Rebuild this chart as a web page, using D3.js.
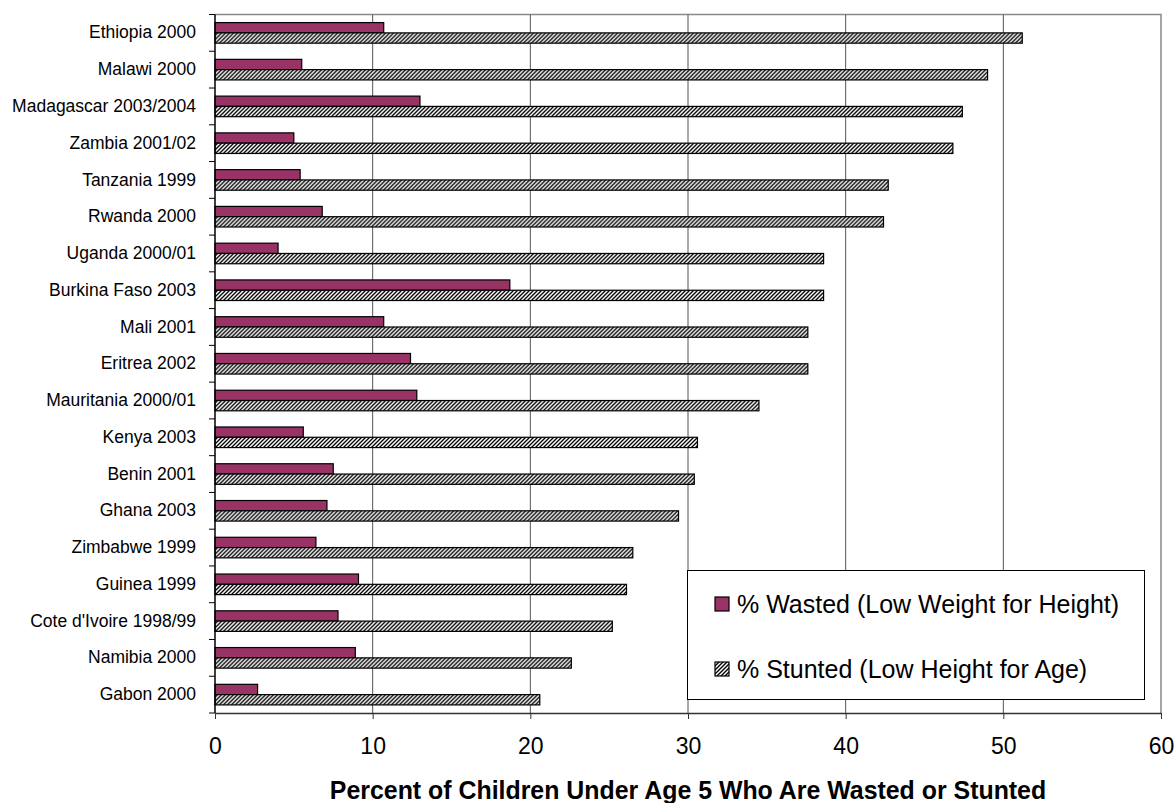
<!DOCTYPE html>
<html>
<head>
<meta charset="utf-8">
<script src="https://cdn.jsdelivr.net/npm/d3@7"></script>
<style>
  html, body { margin: 0; padding: 0; background: #fff; }
  svg { display: block; font-family: Arial, "Liberation Sans", sans-serif; }
</style>
</head>
<body>
<svg id="chart" width="1176" height="803"></svg>
<script>
// Survey labels, top to bottom
const countries = [
  "Ethiopia 2000", "Malawi 2000", "Madagascar 2003/2004", "Zambia 2001/02",
  "Tanzania 1999", "Rwanda 2000", "Uganda 2000/01", "Burkina Faso 2003",
  "Mali 2001", "Eritrea 2002", "Mauritania 2000/01", "Kenya 2003",
  "Benin 2001", "Ghana 2003", "Zimbabwe 1999", "Guinea  1999",
  "Cote d'Ivoire 1998/99", "Namibia 2000", "Gabon 2000"
];
// % of children under 5 wasted (low weight for height)
const wasted = [10.7, 5.5, 13.0, 5.0, 5.4, 6.8, 4.0, 18.7, 10.7, 12.4,
                12.8, 5.6, 7.5, 7.1, 6.4, 9.1, 7.8, 8.9, 2.7];
// % of children under 5 stunted (low height for age)
const stunted = [51.2, 49.0, 47.4, 46.8, 42.7, 42.4, 38.6, 38.6, 37.6, 37.6,
                 34.5, 30.6, 30.4, 29.4, 26.5, 26.1, 25.2, 22.6, 20.6];
const seriesNames = ["% Wasted (Low Weight for Height)", "% Stunted (Low Height for Age)"];
const xTicks = [0, 10, 20, 30, 40, 50, 60];

const rows = countries.map((c, i) => ({ country: c, values: [wasted[i], stunted[i]] }));

const svg = d3.select("#chart");
const plotLeft = 215, plotRight = 1161, plotTop = 14.5, plotBottom = 713;

const x = d3.scaleLinear().domain([0, 60]).range([plotLeft, plotRight]);
const y = d3.scaleBand().domain(countries).range([plotTop, plotBottom])
  .paddingInner(0.44).paddingOuter(0.22);
const y1 = d3.scaleBand().domain([0, 1]).range([0, y.bandwidth()]);

// diagonal hatch fill for the stunting series
const defs = svg.append("defs");
const pat = defs.append("pattern")
  .attr("id", "hatch").attr("patternUnits", "userSpaceOnUse")
  .attr("width", 4).attr("height", 4);
pat.append("rect").attr("width", 4).attr("height", 4).attr("fill", "#fff");
pat.append("path")
  .attr("d", "M-1,1 L1,-1 M0,4 L4,0 M3,5 L5,3")
  .attr("stroke", "#000").attr("stroke-width", 1.35);

const fills = ["#993366", "url(#hatch)"];

// plot frame (top and right)
svg.append("path")
  .attr("d", `M${plotLeft},${plotTop}H${plotRight}V${plotBottom}`)
  .attr("fill", "none").attr("stroke", "#888").attr("stroke-width", 1.5);

// vertical gridlines
svg.append("g").selectAll("line")
  .data(xTicks.filter(t => t > 0 && t < 60))
  .join("line")
  .attr("x1", d => x(d)).attr("x2", d => x(d))
  .attr("y1", plotTop).attr("y2", plotBottom)
  .attr("stroke", "#555").attr("stroke-width", 1);

// bars
const groups = svg.append("g").selectAll("g")
  .data(rows).join("g")
  .attr("transform", d => `translate(0,${y(d.country)})`);
groups.selectAll("rect")
  .data(d => d.values.map((v, k) => ({ v, k })))
  .join("rect")
  .attr("x", x(0))
  .attr("y", d => y1(d.k))
  .attr("width", d => x(d.v) - x(0))
  .attr("height", y1.bandwidth())
  .attr("fill", d => fills[d.k])
  .attr("stroke", "#000").attr("stroke-width", 1.2);

// x axis
const xAxis = svg.append("g")
  .attr("transform", `translate(0,${plotBottom})`)
  .call(d3.axisBottom(x).tickValues(xTicks).tickSize(6).tickPadding(19).tickSizeOuter(0));
xAxis.select(".domain").attr("stroke", "#333").attr("stroke-width", 1.5);
xAxis.selectAll(".tick line").attr("stroke", "#333");
xAxis.selectAll(".tick text")
  .attr("font-size", 23).attr("fill", "#000")
  .attr("font-family", 'Arial, "Liberation Sans", sans-serif');

// y axis: category labels
const yAxis = svg.append("g")
  .attr("transform", `translate(${plotLeft},0)`)
  .call(d3.axisLeft(y).tickSize(0).tickPadding(19));
yAxis.select(".domain").remove();
yAxis.selectAll(".tick text")
  .attr("font-size", 17.5).attr("fill", "#000")
  .attr("font-family", 'Arial, "Liberation Sans", sans-serif');

// y axis line and category boundary ticks
svg.append("line")
  .attr("x1", plotLeft).attr("x2", plotLeft).attr("y1", plotTop).attr("y2", plotBottom)
  .attr("stroke", "#000").attr("stroke-width", 1.5);
svg.append("g").selectAll("line")
  .data(d3.range(countries.length + 1))
  .join("line")
  .attr("x1", plotLeft - 6).attr("x2", plotLeft)
  .attr("y1", i => plotTop + i * y.step()).attr("y2", i => plotTop + i * y.step())
  .attr("stroke", "#000").attr("stroke-width", 1);

// axis title
svg.append("text")
  .attr("x", (plotLeft + plotRight) / 2).attr("y", 799)
  .attr("text-anchor", "middle")
  .attr("font-size", 24.9).attr("font-weight", "bold")
  .text("Percent of Children Under Age 5 Who Are Wasted or Stunted");

// legend
const legend = svg.append("g");
legend.append("rect")
  .attr("x", 687.5).attr("y", 570.5).attr("width", 457).attr("height", 129)
  .attr("fill", "#fff").attr("stroke", "#000").attr("stroke-width", 1);
const items = legend.selectAll("g.item")
  .data(seriesNames).join("g").attr("class", "item")
  .attr("transform", (d, i) => `translate(715,${597 + i * 65})`);
items.append("rect")
  .attr("width", 14).attr("height", 14)
  .attr("fill", (d, i) => fills[i])
  .attr("stroke", "#000").attr("stroke-width", 1.2);
items.append("text")
  .attr("x", 22).attr("y", 15.5)
  .attr("font-size", 25).attr("fill", "#000")
  .text(d => d);
</script>
</body>
</html>
